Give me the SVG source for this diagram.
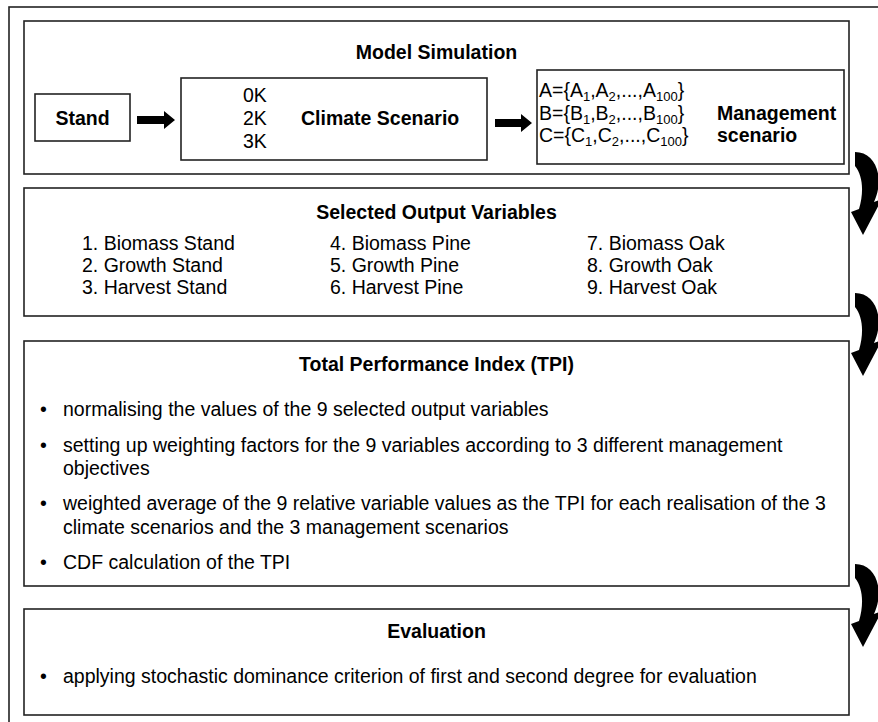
<svg xmlns="http://www.w3.org/2000/svg" width="878" height="722" viewBox="0 0 878 722">
<style>
.box{fill:#fff;stroke:#222;stroke-width:1.6}
.t{font-family:"Liberation Sans",Arial,sans-serif;font-size:19.5px;fill:#000}
.b{font-weight:bold}
.sub{font-size:13px}
.m{text-anchor:middle}
.blk{fill:#000}
</style>
<defs>
<path id="carrow" d="M0 0 C21 0, 30 26, 19 50 L27 47 L8 83 L-4 60 L4 57 C9 40, 8 24, 0 14 Z"/>
</defs>
<rect width="878" height="722" fill="#fff"/>
<rect x="9" y="7" width="900" height="740" fill="none" stroke="#222" stroke-width="1.6"/>

<g id="model-simulation">
<rect class="box" x="24" y="21" width="825" height="153"/>
<text class="t b m" x="436.5" y="59">Model Simulation</text>
</g>
<g id="stand">
<rect class="box" x="35" y="94" width="95" height="47"/>
<text class="t b m" x="82.5" y="125">Stand</text>
</g>
<g id="climate-scenario">
<rect class="box" x="181" y="78" width="306" height="82"/>
<text class="t" x="243" y="102">0K</text>
<text class="t" x="243" y="125">2K</text>
<text class="t" x="243" y="148">3K</text>
<text class="t b" x="301" y="125">Climate Scenario</text>
</g>
<g id="management-scenario">
<rect class="box" x="537" y="70" width="307" height="94" stroke-width="2"/>
<text class="t" x="539" y="97">A={A<tspan class="sub" dy="4">1</tspan><tspan dy="-4">,A</tspan><tspan class="sub" dy="4">2</tspan><tspan dy="-4">,...,A</tspan><tspan class="sub" dy="4">100</tspan><tspan dy="-4">}</tspan></text>
<text class="t" x="539" y="120">B={B<tspan class="sub" dy="4">1</tspan><tspan dy="-4">,B</tspan><tspan class="sub" dy="4">2</tspan><tspan dy="-4">,...,B</tspan><tspan class="sub" dy="4">100</tspan><tspan dy="-4">}</tspan></text>
<text class="t" x="539" y="142">C={C<tspan class="sub" dy="4">1</tspan><tspan dy="-4">,C</tspan><tspan class="sub" dy="4">2</tspan><tspan dy="-4">,...,C</tspan><tspan class="sub" dy="4">100</tspan><tspan dy="-4">}</tspan></text>
<text class="t b" x="717" y="120">Management</text>
<text class="t b" x="717" y="142">scenario</text>
</g>
<g id="selected-output-variables">
<rect class="box" x="24" y="188" width="825" height="128"/>
<text class="t b m" x="436.5" y="219">Selected Output Variables</text>
<text class="t" x="82" y="250">1. Biomass Stand</text>
<text class="t" x="82" y="272">2. Growth Stand</text>
<text class="t" x="82" y="294">3. Harvest Stand</text>
<text class="t" x="330" y="250">4. Biomass Pine</text>
<text class="t" x="330" y="272">5. Growth Pine</text>
<text class="t" x="330" y="294">6. Harvest Pine</text>
<text class="t" x="587" y="250">7. Biomass Oak</text>
<text class="t" x="587" y="272">8. Growth Oak</text>
<text class="t" x="587" y="294">9. Harvest Oak</text>
</g>
<g id="tpi">
<rect class="box" x="24" y="341" width="825" height="245"/>
<text class="t b m" x="436.5" y="371">Total Performance Index (TPI)</text>
<text class="t" x="40" y="416">•</text>
<text class="t" x="63" y="416">normalising the values of the 9 selected output variables</text>
<text class="t" x="40" y="452">•</text>
<text class="t" x="63" y="452">setting up weighting factors for the 9 variables according to 3 different management</text>
<text class="t" x="63" y="475">objectives</text>
<text class="t" x="40" y="510">•</text>
<text class="t" x="63" y="510">weighted average of the 9 relative variable values as the TPI for each realisation of the 3</text>
<text class="t" x="63" y="534">climate scenarios and the 3 management scenarios</text>
<text class="t" x="40" y="569">•</text>
<text class="t" x="63" y="569">CDF calculation of the TPI</text>
</g>
<g id="evaluation">
<rect class="box" x="24" y="609" width="825" height="106"/>
<text class="t b m" x="436.5" y="638">Evaluation</text>
<text class="t" x="40" y="683">•</text>
<text class="t" x="63" y="683">applying stochastic dominance criterion of first and second degree for evaluation</text>
</g>
<g id="connectors">
<path class="blk" d="M137 116 L164 116 L164 111 L175 120 L164 129 L164 124 L137 124 Z"/>
<path class="blk" d="M495 119 L521 119 L521 114 L532 123 L521 132 L521 127 L495 127 Z"/>
<use href="#carrow" x="855" y="152"/>
<use href="#carrow" x="855" y="293"/>
<use href="#carrow" x="855" y="564"/>
</g>
</svg>
